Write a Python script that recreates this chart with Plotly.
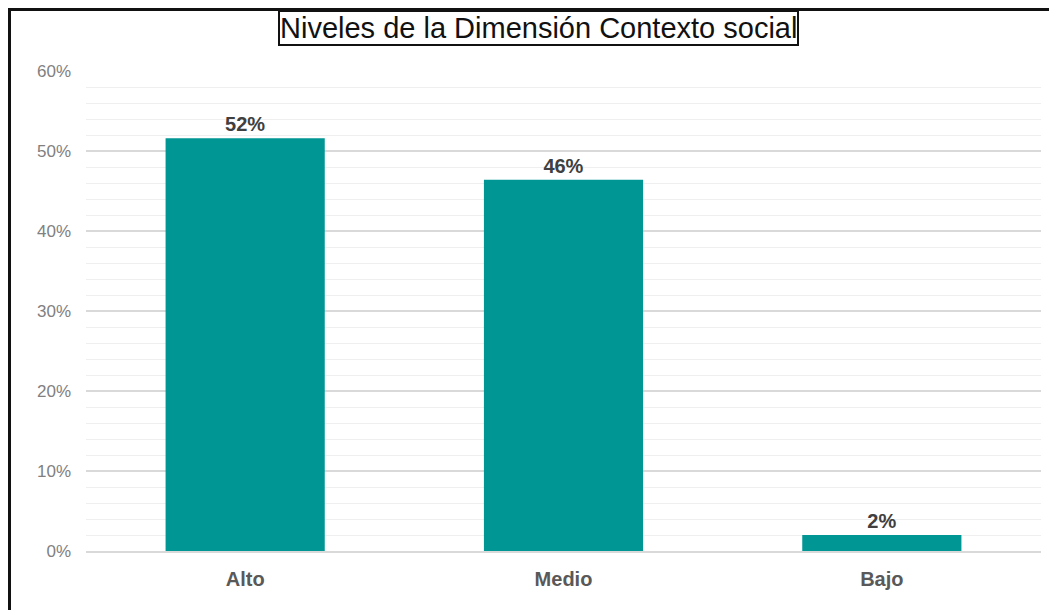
import plotly.graph_objects as go

categories = ["Alto", "Medio", "Bajo"]
values = [51.6, 46.4, 2.0]
labels = ["52%", "46%", "2%"]
y_ticks = [0, 10, 20, 30, 40, 50, 60]
y_ticktext = ["0%", "10%", "20%", "30%", "40%", "50%", "60%"]
title_text = "Niveles de la Dimensión Contexto social"

fig = go.Figure(
    go.Bar(
        x=categories,
        y=values,
        text=labels,
        textposition="outside",
        textfont=dict(family="Liberation Sans, Arial, sans-serif", size=20, color="#404040", weight="bold"),
        marker=dict(color="#009693", line=dict(width=0)),
        width=0.5,
        cliponaxis=False,
    )
)

fig.update_layout(
    width=1049,
    height=602,
    margin=dict(l=78, r=16, t=63, b=59),
    paper_bgcolor="white",
    plot_bgcolor="white",
    showlegend=False,
    font=dict(family="Liberation Sans, Arial, sans-serif"),
    annotations=[
        dict(
            text=title_text,
            xref="paper", yref="paper",
            x=0.4733, y=1.0906,
            xanchor="center", yanchor="middle",
            showarrow=False,
            font=dict(family="Liberation Sans, Arial, sans-serif", size=29, color="#111111"),
            bordercolor="#111111",
            borderwidth=2,
            borderpad=0,
            bgcolor="white",
        )
    ],
    shapes=[
        dict(
            type="rect", xref="paper", yref="paper",
            x0=-0.0801, x1=1.08, y0=-0.2, y1=1.128,
            line=dict(color="#111111", width=3),
            fillcolor="rgba(0,0,0,0)",
            layer="above",
        )
    ],
)

fig.update_yaxes(
    range=[0, 60],
    tickvals=y_ticks,
    ticktext=y_ticktext,
    tickfont=dict(size=17, color="#808080"),
    showgrid=True,
    gridcolor="#d9d9d9",
    gridwidth=1.5,
    zeroline=False,
    ticks="",
    ticklabelstandoff=14,
    minor=dict(dtick=2, showgrid=True, gridcolor="#efefef", gridwidth=1),
    showline=False,
    fixedrange=True,
)
fig.update_xaxes(
    tickfont=dict(size=20, color="#595959", weight="bold"),
    showline=True,
    linecolor="#d9d9d9",
    linewidth=1.5,
    ticks="",
    ticklabelstandoff=9,
    showgrid=False,
)

fig.write_html("out.html")
